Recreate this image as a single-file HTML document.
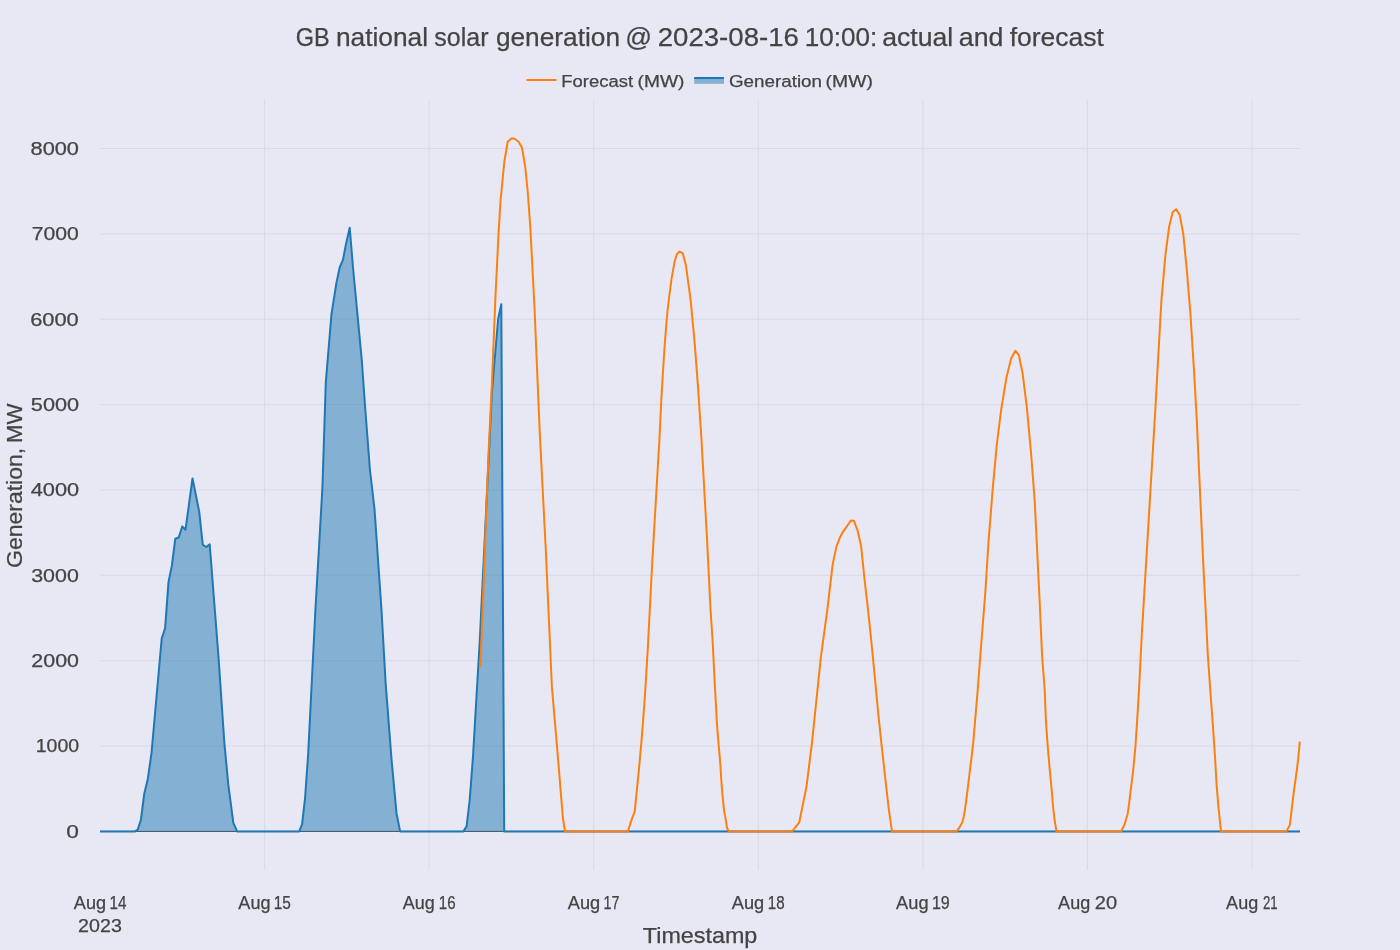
<!DOCTYPE html>
<html><head><meta charset="utf-8"><style>
html,body{margin:0;padding:0;background:#e8e8f5;}
svg{display:block;}
text{font-family:"Liberation Sans",sans-serif;fill:#444444;stroke:#444444;stroke-width:0.25px;}
svg{will-change:transform;}
</style></head><body>
<svg width="1400" height="950" viewBox="0 0 1400 950">
<rect x="0" y="0" width="1400" height="950" fill="#e8e8f5"/>
<g stroke="#d9d9e6" stroke-width="1">
<line x1="264.57" y1="100" x2="264.57" y2="870"/>
<line x1="429.14" y1="100" x2="429.14" y2="870"/>
<line x1="593.71" y1="100" x2="593.71" y2="870"/>
<line x1="758.29" y1="100" x2="758.29" y2="870"/>
<line x1="922.86" y1="100" x2="922.86" y2="870"/>
<line x1="1087.43" y1="100" x2="1087.43" y2="870"/>
<line x1="1252.00" y1="100" x2="1252.00" y2="870"/>
<line x1="100" y1="746.04" x2="1300" y2="746.04"/>
<line x1="100" y1="660.67" x2="1300" y2="660.67"/>
<line x1="100" y1="575.31" x2="1300" y2="575.31"/>
<line x1="100" y1="489.95" x2="1300" y2="489.95"/>
<line x1="100" y1="404.58" x2="1300" y2="404.58"/>
<line x1="100" y1="319.22" x2="1300" y2="319.22"/>
<line x1="100" y1="233.86" x2="1300" y2="233.86"/>
<line x1="100" y1="148.50" x2="1300" y2="148.50"/>
</g>
<line x1="100" y1="831.4" x2="1300" y2="831.4" stroke="#444" stroke-width="1"/>
<polygon points="100.0,831.4 135.1,831.4 137.7,829.5 140.9,820.0 144.2,794.0 147.9,778.4 151.5,753.2 161.7,638.5 165.1,628.4 168.5,582.1 171.9,565.4 175.3,538.7 178.7,537.5 182.3,526.4 185.5,529.7 192.5,478.5 199.2,511.7 202.8,544.9 206.3,547.0 209.7,544.4 218.5,657.0 224.3,742.1 228.3,784.7 233.3,822.6 237.1,831.4 299.2,831.4 302.1,824.1 305.0,798.7 308.1,755.2 315.4,610.0 322.4,488.0 325.8,382.4 331.5,313.9 336.4,282.9 339.7,267.5 343.0,259.7 345.7,245.4 349.7,227.7 353.0,267.5 357.4,313.9 361.8,360.3 364.6,400.0 369.9,469.5 374.5,508.9 381.5,610.0 385.6,682.6 391.6,760.0 396.5,813.2 400.1,831.4 463.4,831.4 466.6,826.3 469.7,800.0 472.9,757.9 476.1,703.2 479.8,640.0 491.9,392.2 493.8,369.5 498.2,318.4 501.3,304.2 504.2,831.4 1300.0,831.4 1300,831.4 100,831.4" fill="#1f77b4" fill-opacity="0.5" stroke="none"/>
<polyline points="100.0,831.4 135.1,831.4 137.7,829.5 140.9,820.0 144.2,794.0 147.9,778.4 151.5,753.2 161.7,638.5 165.1,628.4 168.5,582.1 171.9,565.4 175.3,538.7 178.7,537.5 182.3,526.4 185.5,529.7 192.5,478.5 199.2,511.7 202.8,544.9 206.3,547.0 209.7,544.4 218.5,657.0 224.3,742.1 228.3,784.7 233.3,822.6 237.1,831.4 299.2,831.4 302.1,824.1 305.0,798.7 308.1,755.2 315.4,610.0 322.4,488.0 325.8,382.4 331.5,313.9 336.4,282.9 339.7,267.5 343.0,259.7 345.7,245.4 349.7,227.7 353.0,267.5 357.4,313.9 361.8,360.3 364.6,400.0 369.9,469.5 374.5,508.9 381.5,610.0 385.6,682.6 391.6,760.0 396.5,813.2 400.1,831.4 463.4,831.4 466.6,826.3 469.7,800.0 472.9,757.9 476.1,703.2 479.8,640.0 491.9,392.2 493.8,369.5 498.2,318.4 501.3,304.2 504.2,831.4 1300.0,831.4" fill="none" stroke="#1f77b4" stroke-width="2" stroke-linejoin="round"/>
<polyline points="480.4,667.3 484.1,570.0 486.6,501.6 488.7,450.0 491.9,384.0 495.5,295.8 497.2,261.6 498.5,234.2 500.6,200.0 504.3,162.0 507.7,141.8 511.7,138.2 515.0,139.0 518.6,141.8 522.0,147.7 525.2,166.5 527.8,192.5 530.4,228.4 534.6,309.8 539.7,431.5 545.8,550.0 551.9,687.0 557.4,751.0 562.9,818.0 565.0,831.4 627.9,831.4 631.1,821.1 634.7,811.6 636.6,792.7 639.0,769.0 641.4,742.1 643.3,718.4 645.3,690.0 647.7,650.4 652.4,559.5 659.4,440.0 661.3,400.0 662.9,373.2 664.5,348.0 666.1,327.0 667.6,310.0 669.4,295.0 671.6,278.4 674.7,261.1 677.0,254.0 679.6,251.6 682.7,253.1 685.9,265.3 690.5,298.9 694.7,343.2 697.9,385.3 701.5,440.0 707.1,540.0 710.4,607.2 712.6,640.8 715.1,690.0 716.0,705.8 716.8,721.6 718.0,737.4 719.4,753.1 720.4,765.0 721.0,775.8 722.5,795.5 724.2,811.3 725.8,820.0 727.0,827.9 728.9,831.4 792.2,831.4 799.3,822.3 806.5,786.5 811.9,743.6 820.8,657.6 827.3,610.0 830.4,583.7 832.5,565.8 834.1,557.4 836.7,545.8 839.9,537.4 843.1,531.6 847.3,525.8 850.9,520.5 854.1,521.1 857.7,531.0 861.1,546.0 864.6,580.0 868.0,609.4 871.4,641.8 874.9,677.8 878.3,714.2 881.7,745.9 885.1,776.7 888.6,807.7 892.0,831.4 956.7,831.4 959.9,826.6 962.3,822.6 963.8,816.4 964.9,810.0 966.2,800.5 967.8,787.9 969.7,772.1 971.3,759.5 973.3,742.1 975.7,713.7 977.7,690.0 980.3,655.8 985.5,590.0 988.4,543.3 992.7,489.2 996.9,443.7 1001.2,409.6 1006.3,378.3 1011.1,358.4 1015.4,350.8 1018.8,355.0 1022.5,372.6 1026.8,406.8 1031.0,452.3 1034.7,500.6 1039.6,600.0 1042.1,655.8 1044.7,690.0 1045.8,718.4 1047.4,742.1 1049.4,765.8 1051.5,788.0 1053.4,810.0 1055.0,822.6 1056.5,831.4 1121.2,831.4 1124.3,825.0 1127.5,814.8 1129.1,803.7 1130.6,791.0 1133.0,772.1 1135.4,746.9 1137.3,718.4 1139.0,690.0 1141.7,636.4 1148.5,523.2 1155.3,410.0 1158.0,360.9 1161.5,299.3 1165.5,254.2 1169.1,227.0 1172.7,212.1 1176.2,209.2 1179.8,215.1 1183.3,234.1 1186.9,270.8 1190.4,313.5 1194.0,370.4 1196.8,420.1 1203.1,560.0 1205.5,607.4 1207.8,654.8 1210.3,690.0 1212.6,721.6 1215.0,756.4 1216.6,784.8 1218.6,808.5 1221.0,831.4 1286.4,831.4 1289.9,824.9 1293.4,794.8 1296.3,774.0 1298.2,758.9 1299.8,741.6" fill="none" stroke="#ff7f0e" stroke-width="2" stroke-linejoin="round"/>
<line x1="526.5" y1="80" x2="556.5" y2="80" stroke="#ff7f0e" stroke-width="2"/>
<rect x="694.2" y="78" width="29.8" height="5.8" fill="#1f77b4" fill-opacity="0.5"/>
<line x1="694.2" y1="78" x2="724" y2="78" stroke="#1f77b4" stroke-width="2"/>
<text x="295.66" y="46.00" font-size="25.2" textLength="33.94" lengthAdjust="spacingAndGlyphs">GB</text>
<text x="335.90" y="46.00" font-size="25.2" textLength="92.17" lengthAdjust="spacingAndGlyphs">national</text>
<text x="434.37" y="46.00" font-size="25.2" textLength="54.12" lengthAdjust="spacingAndGlyphs">solar</text>
<text x="495.93" y="46.00" font-size="25.2" textLength="124.09" lengthAdjust="spacingAndGlyphs">generation</text>
<text x="625.24" y="46.00" font-size="25.2" textLength="26.70" lengthAdjust="spacingAndGlyphs">@</text>
<text x="657.73" y="46.00" font-size="25.2" textLength="141.15" lengthAdjust="spacingAndGlyphs">2023-08-16</text>
<text x="804.82" y="46.00" font-size="25.2" textLength="72.51" lengthAdjust="spacingAndGlyphs">10:00:</text>
<text x="882.17" y="46.00" font-size="25.2" textLength="71.01" lengthAdjust="spacingAndGlyphs">actual</text>
<text x="958.87" y="46.00" font-size="25.2" textLength="44.61" lengthAdjust="spacingAndGlyphs">and</text>
<text x="1009.65" y="46.00" font-size="25.2" textLength="94.24" lengthAdjust="spacingAndGlyphs">forecast</text>
<text x="561.23" y="86.60" font-size="16.8" textLength="71.86" lengthAdjust="spacingAndGlyphs">Forecast</text>
<text x="637.54" y="86.60" font-size="16.8" textLength="46.94" lengthAdjust="spacingAndGlyphs">(MW)</text>
<text x="728.99" y="86.60" font-size="16.8" textLength="93.05" lengthAdjust="spacingAndGlyphs">Generation</text>
<text x="825.64" y="86.60" font-size="16.8" textLength="47.20" lengthAdjust="spacingAndGlyphs">(MW)</text>
<text x="73.83" y="908.70" font-size="17.6" textLength="32.24" lengthAdjust="spacingAndGlyphs">Aug</text>
<text x="109.45" y="908.70" font-size="17.6" textLength="16.97" lengthAdjust="spacingAndGlyphs">14</text>
<text x="238.36" y="908.70" font-size="17.6" textLength="32.14" lengthAdjust="spacingAndGlyphs">Aug</text>
<text x="273.81" y="908.70" font-size="17.6" textLength="17.13" lengthAdjust="spacingAndGlyphs">15</text>
<text x="402.76" y="908.70" font-size="17.6" textLength="31.99" lengthAdjust="spacingAndGlyphs">Aug</text>
<text x="438.86" y="908.70" font-size="17.6" textLength="16.82" lengthAdjust="spacingAndGlyphs">16</text>
<text x="567.84" y="908.70" font-size="17.6" textLength="32.41" lengthAdjust="spacingAndGlyphs">Aug</text>
<text x="603.62" y="908.70" font-size="17.6" textLength="15.97" lengthAdjust="spacingAndGlyphs">17</text>
<text x="731.84" y="908.70" font-size="17.6" textLength="32.41" lengthAdjust="spacingAndGlyphs">Aug</text>
<text x="767.86" y="908.70" font-size="17.6" textLength="16.84" lengthAdjust="spacingAndGlyphs">18</text>
<text x="896.13" y="908.70" font-size="17.6" textLength="32.39" lengthAdjust="spacingAndGlyphs">Aug</text>
<text x="931.96" y="908.70" font-size="17.6" textLength="17.83" lengthAdjust="spacingAndGlyphs">19</text>
<text x="1058.13" y="908.70" font-size="17.6" textLength="32.07" lengthAdjust="spacingAndGlyphs">Aug</text>
<text x="1094.75" y="908.70" font-size="17.6" textLength="22.34" lengthAdjust="spacingAndGlyphs">20</text>
<text x="1226.13" y="908.70" font-size="17.6" textLength="32.07" lengthAdjust="spacingAndGlyphs">Aug</text>
<text x="1263.02" y="908.70" font-size="17.6" textLength="14.70" lengthAdjust="spacingAndGlyphs">21</text>
<text x="78.13" y="931.80" font-size="17.6" textLength="43.73" lengthAdjust="spacingAndGlyphs">2023</text>
<text x="66.18" y="837.85" font-size="17.7" textLength="12.63" lengthAdjust="spacingAndGlyphs">0</text>
<text x="35.72" y="752.49" font-size="17.7" textLength="43.33" lengthAdjust="spacingAndGlyphs">1000</text>
<text x="31.39" y="667.12" font-size="17.7" textLength="47.64" lengthAdjust="spacingAndGlyphs">2000</text>
<text x="31.19" y="581.76" font-size="17.7" textLength="47.62" lengthAdjust="spacingAndGlyphs">3000</text>
<text x="30.68" y="496.40" font-size="17.7" textLength="48.44" lengthAdjust="spacingAndGlyphs">4000</text>
<text x="30.87" y="411.03" font-size="17.7" textLength="48.22" lengthAdjust="spacingAndGlyphs">5000</text>
<text x="30.15" y="325.67" font-size="17.7" textLength="48.58" lengthAdjust="spacingAndGlyphs">6000</text>
<text x="31.72" y="240.31" font-size="17.7" textLength="47.07" lengthAdjust="spacingAndGlyphs">7000</text>
<text x="30.54" y="154.95" font-size="17.7" textLength="48.44" lengthAdjust="spacingAndGlyphs">8000</text>
<text x="642.83" y="942.70" font-size="21.2" textLength="114.52" lengthAdjust="spacingAndGlyphs">Timestamp</text>
<text x="-567.96" y="0" font-size="21.6" transform="translate(22.3,0) rotate(-90)" textLength="120.09" lengthAdjust="spacingAndGlyphs">Generation,</text>
<text x="-443.11" y="0" font-size="21.6" transform="translate(22.3,0) rotate(-90)" textLength="39.50" lengthAdjust="spacingAndGlyphs">MW</text>
</svg></body></html>
